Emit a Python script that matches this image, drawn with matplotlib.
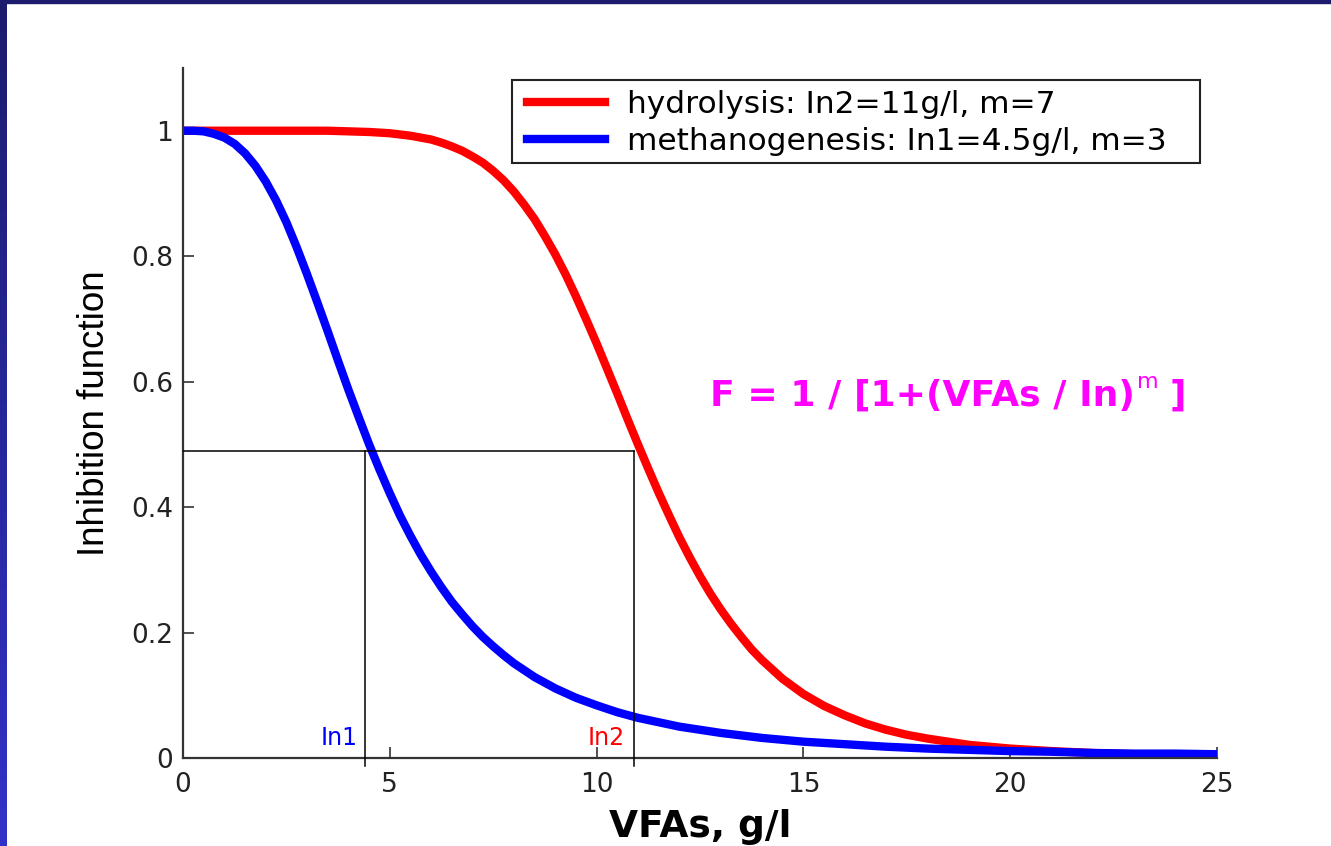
import matplotlib
matplotlib.use('Agg')
import numpy as np
import matplotlib.pyplot as plt
from matplotlib.patches import Rectangle

# methanogenesis curve: VFA (g/l) and inhibition factor
vfa_meth = [0, 0.25, 0.5, 0.75, 1, 1.25, 1.5, 1.75, 2, 2.25, 2.5, 2.75, 3,
            3.25, 3.5, 3.75, 4, 4.25, 4.5, 4.75, 5, 5.25, 5.5, 5.75, 6, 6.25,
            6.5, 6.75, 7, 7.25, 7.5, 7.75, 8, 8.5, 9, 9.5, 10, 10.5, 11, 11.5,
            12, 12.5, 13, 13.5, 14, 14.5, 15, 16, 17, 18, 19, 20, 21, 22, 23,
            24, 25]
f_meth = [1.0, 1.0, 0.999, 0.995, 0.989, 0.979, 0.964, 0.944, 0.919, 0.889,
          0.854, 0.814, 0.771, 0.726, 0.680, 0.633, 0.587, 0.543, 0.500, 0.460,
          0.422, 0.386, 0.354, 0.324, 0.297, 0.272, 0.249, 0.229, 0.210, 0.193,
          0.178, 0.164, 0.151, 0.129, 0.111, 0.096, 0.084, 0.073, 0.064, 0.057,
          0.050, 0.045, 0.040, 0.036, 0.032, 0.029, 0.026, 0.022, 0.018, 0.015,
          0.013, 0.011, 0.010, 0.008, 0.007, 0.007, 0.006]

# hydrolysis curve
vfa_hydro = [0, 1, 2, 3, 3.5, 4, 4.5, 5, 5.25, 5.5, 5.75, 6, 6.25, 6.5, 6.75,
             7, 7.25, 7.5, 7.75, 8, 8.25, 8.5, 8.75, 9, 9.25, 9.5, 9.75, 10,
             10.25, 10.5, 10.75, 11, 11.25, 11.5, 11.75, 12, 12.25, 12.5, 12.75,
             13, 13.25, 13.5, 13.75, 14, 14.5, 15, 15.5, 16, 16.5, 17, 17.5, 18,
             19, 20, 21, 22, 23, 24, 25]
f_hydro = [1.0, 1.0, 1.0, 1.0, 1.0, 0.999, 0.998, 0.996, 0.994, 0.992, 0.989,
           0.986, 0.981, 0.975, 0.968, 0.959, 0.949, 0.936, 0.921, 0.903, 0.882,
           0.859, 0.832, 0.803, 0.771, 0.736, 0.699, 0.661, 0.621, 0.581, 0.540,
           0.500, 0.461, 0.423, 0.387, 0.352, 0.320, 0.290, 0.262, 0.237, 0.214,
           0.193, 0.173, 0.156, 0.126, 0.102, 0.083, 0.068, 0.055, 0.045, 0.037,
           0.031, 0.021, 0.015, 0.011, 0.008, 0.006, 0.004, 0.003]

labels = ['hydrolysis: In2=11g/l, m=7', 'methanogenesis: In1=4.5g/l, m=3']
colors = ['#ff0000', '#0000ff']

# guide lines at the half-inhibition concentrations
in_marks = [4.4, 10.9]
half_level = 0.49

plt.rcParams['font.family'] = ['DejaVu Sans']

fig = plt.figure(figsize=(13.31, 8.46), dpi=100, facecolor='white')

# slide frame: gradient strip on the left, dark band on top
strip = fig.add_axes([0, 0, 7 / 1331, 1])
grad = np.linspace(0, 1, 256)[:, None, None]
c_top = np.array([0x1c, 0x1b, 0x6c]) / 255
c_bot = np.array([0x32, 0x32, 0xc8]) / 255
strip.imshow(c_top * (1 - grad) + c_bot * grad, aspect='auto', interpolation='bilinear')
strip.axis('off')
fig.patches.append(Rectangle((0, 1 - 3 / 846), 1, 3 / 846, transform=fig.transFigure,
                             color='#1c1b6c', zorder=10))

ax = fig.add_axes([183 / 1331, 88 / 846, 1034 / 1331, 690 / 846])

ax.plot(vfa_hydro, f_hydro, color=colors[0], lw=6, label=labels[0])
ax.plot(vfa_meth, f_meth, color=colors[1], lw=6, label=labels[1])

ax.plot([0, in_marks[1]], [half_level, half_level], color='black', lw=1.1, zorder=5)
for xm in in_marks:
    ax.plot([xm, xm], [-0.012, half_level], color='black', lw=1.1, zorder=5, clip_on=False)

ax.text(4.22, 0.021, 'In1', color=colors[1], fontsize=17, ha='right', va='baseline')
ax.text(10.67, 0.021, 'In2', color=colors[0], fontsize=17, ha='right', va='baseline')

mag = '#ff00ff'
t1 = ax.text(12.75, 0.562, 'F = 1 / [1+(VFAs / In)', color=mag, fontsize=26,
             fontweight='bold', va='baseline')
t2 = ax.annotate('m', xy=(1, 1), xycoords=t1, xytext=(1, 5), textcoords='offset points',
                 color=mag, fontsize=16, va='top', ha='left')
ax.annotate(']', xy=(1, 0), xycoords=(t2, t1), xytext=(8, 0), textcoords='offset points',
            color=mag, fontsize=26, fontweight='bold', va='bottom', ha='left')

ax.set_xlim(0, 25)
ax.set_ylim(0, 1.1)
ax.set_xticks([0, 5, 10, 15, 20, 25])
ax.set_yticks([0, 0.2, 0.4, 0.6, 0.8, 1])
ax.set_yticklabels(['0', '0.2', '0.4', '0.6', '0.8', '1'])
ax.tick_params(direction='in', length=8, width=1.1, labelsize=19, colors='#222222')
ax.tick_params(axis='y', pad=7)
ax.tick_params(axis='x', pad=10)
for side in ['top', 'right']:
    ax.spines[side].set_visible(False)
for side in ['left', 'bottom']:
    ax.spines[side].set_linewidth(1.6)
    ax.spines[side].set_color('#333333')

ax.set_xlabel('VFAs, g/l', fontsize=27, fontweight='bold', labelpad=8)
ax.set_ylabel('Inhibition function', fontsize=26.5, family=['Liberation Sans', 'DejaVu Sans'],
              labelpad=14)

# legend entries without frame, box drawn separately
leg = ax.legend(loc='upper left', bbox_to_anchor=(0.3329, 0.9681), borderaxespad=0,
                borderpad=0, fontsize=22.5, frameon=False, handlelength=2.5,
                handletextpad=0.7, labelspacing=0.25)
ax.add_patch(Rectangle((0.3184, 0.8623), 0.6652, 0.1203, transform=ax.transAxes,
                       fill=False, edgecolor='#222222', lw=1.5, zorder=6))

fig.savefig('out.png', dpi=100, facecolor='white')
